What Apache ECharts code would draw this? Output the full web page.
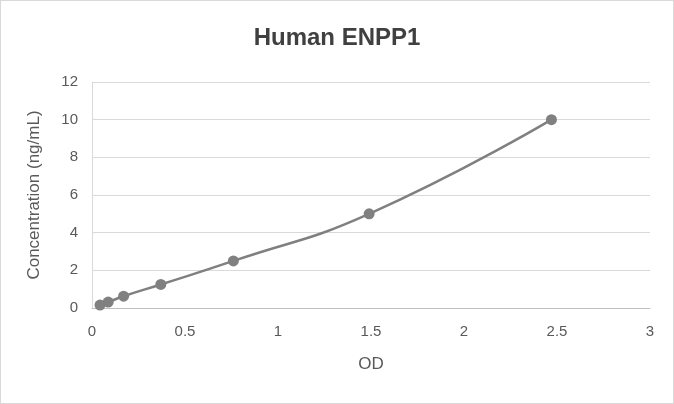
<!DOCTYPE html>
<html><head><meta charset="utf-8">
<script src="https://cdn.jsdelivr.net/npm/echarts@6/dist/echarts.min.js"></script>
<style>html,body{margin:0;padding:0;background:#fff}#c{width:674px;height:404px;box-sizing:border-box;border:1px solid #d9d9d9}</style>
</head><body><div id="c"></div>
<script>
const od = [0.043, 0.087, 0.17, 0.37, 0.76, 1.49, 2.47];
const conc = [0.156, 0.3125, 0.625, 1.25, 2.5, 5, 10];
const chart = echarts.init(document.getElementById('c'));
chart.setOption({
  animation: false,
  title: {text: 'Human ENPP1', left: 'center', top: 20,
    textStyle: {fontFamily: 'Liberation Sans, Arial', fontSize: 24, fontWeight: 'bold', color: '#404040'}},
  grid: {left: 91, right: 23, top: 81, bottom: 95},
  xAxis: {type: 'value', min: 0, max: 3, interval: 0.5, name: 'OD', nameLocation: 'middle', nameGap: 48,
    nameTextStyle: {fontSize: 17, color: '#595959', fontFamily: 'Liberation Sans, Arial'},
    axisLine: {lineStyle: {color: '#bfbfbf'}}, axisTick: {show: false},
    axisLabel: {color: '#595959', fontSize: 15, margin: 16, fontFamily: 'Liberation Sans, Arial'},
    splitLine: {show: false}},
  yAxis: {type: 'value', min: 0, max: 12, interval: 2, name: 'Concentration (ng/mL)', nameLocation: 'middle', nameGap: 49,
    nameTextStyle: {fontSize: 17, color: '#595959', fontFamily: 'Liberation Sans, Arial'},
    axisLine: {show: true, lineStyle: {color: '#d9d9d9'}}, axisTick: {show: false},
    axisLabel: {color: '#595959', fontSize: 15, margin: 14, fontFamily: 'Liberation Sans, Arial'},
    splitLine: {lineStyle: {color: '#d9d9d9'}}},
  series: [{type: 'line', smooth: true, data: od.map((x, i) => [x, conc[i]]),
    symbol: 'circle', symbolSize: 11, itemStyle: {color: '#808080'},
    lineStyle: {color: '#808080', width: 2.5}}]
});
</script></body></html>
